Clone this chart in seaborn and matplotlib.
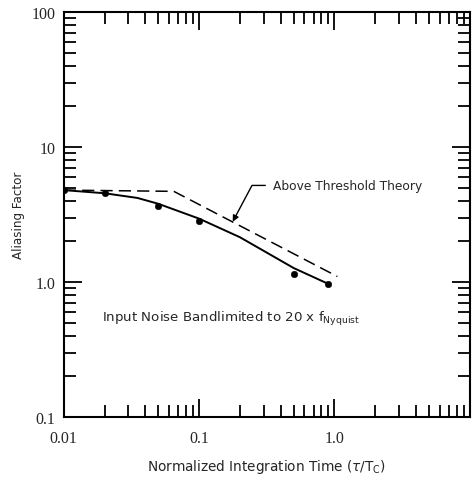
import matplotlib
matplotlib.use("Agg")
import matplotlib.pyplot as plt
from matplotlib.ticker import LogLocator, NullFormatter, FixedLocator, FixedFormatter
import seaborn as sns
import pandas as pd

# measured points (dots)
tau = [0.01, 0.02, 0.05, 0.1, 0.5, 0.9]
alias = [4.8, 4.55, 3.65, 2.85, 1.14, 0.97]

# smoothed fit through measurements (solid)
fit_tau = [0.01, 0.02, 0.035, 0.05, 0.1, 0.2, 0.5, 0.9]
fit_alias = [4.8, 4.55, 4.2, 3.8, 2.95, 2.15, 1.27, 0.97]

# above threshold theory (dashed)
thr_tau = [0.01, 0.065, 1.05]
thr_alias = [4.8, 4.7, 1.1]

xticks = [0.01, 0.1, 1.0]
xticklabels = ["0.01", "0.1", "1.0"]
yticks = [0.1, 1.0, 10, 100]
yticklabels = ["0.1", "1.0", "10", "100"]

sns.set_style("ticks")
plt.rcParams['font.family'] = ['DejaVu Sans']

fig = plt.figure(figsize=(4.76, 4.85), dpi=100)
ax = fig.add_axes([0.134, 0.138, 0.853, 0.835])

pts = pd.DataFrame({"tau": tau, "alias": alias})
fit = pd.DataFrame({"tau": fit_tau, "alias": fit_alias})
thr = pd.DataFrame({"tau": thr_tau, "alias": thr_alias})

sns.lineplot(data=fit, x="tau", y="alias", ax=ax, color="black", lw=1.4, sort=False)
sns.lineplot(data=thr, x="tau", y="alias", ax=ax, color="black", lw=1.1, sort=False,
             dashes=False, linestyle=(0, (8, 4)))
sns.scatterplot(data=pts, x="tau", y="alias", ax=ax, color="black", s=22,
                edgecolor="black", zorder=5)

ax.set_xscale("log")
ax.set_yscale("log")
ax.set_xlim(0.01, 10)
ax.set_ylim(0.1, 100)

ax.xaxis.set_major_locator(FixedLocator(xticks))
ax.xaxis.set_major_formatter(FixedFormatter(xticklabels))
ax.yaxis.set_major_locator(FixedLocator(yticks))
ax.yaxis.set_major_formatter(FixedFormatter(yticklabels))
ax.xaxis.set_minor_locator(LogLocator(base=10, subs=range(2, 10)))
ax.yaxis.set_minor_locator(LogLocator(base=10, subs=range(2, 10)))
ax.xaxis.set_minor_formatter(NullFormatter())
ax.yaxis.set_minor_formatter(NullFormatter())

ax.tick_params(which="both", direction="in", top=True, right=True, width=1.3,
               color="black")
ax.tick_params(which="major", length=13, labelsize=11.5)
ax.tick_params(axis="x", which="major", pad=9)
ax.tick_params(axis="y", which="major", pad=6)
ax.tick_params(which="minor", length=8.5)
for lab in ax.get_xticklabels() + ax.get_yticklabels():
    lab.set_family("Liberation Serif")
for s in ax.spines.values():
    s.set_linewidth(1.5)
    s.set_color("black")

ax.set_xlabel(r"Normalized Integration Time ($\tau$/T$_{\rm C}$)", fontsize=9.8,
              labelpad=8)
ax.set_ylabel("Aliasing Factor", fontsize=8.6, labelpad=5)

ax.annotate("Above Threshold Theory", xy=(0.177, 2.8), xytext=(0.35, 5.2),
            fontsize=8.8, va="center", ha="left",
            arrowprops=dict(arrowstyle="-|>", color="black", lw=1.0,
                            connectionstyle="angle,angleA=0,angleB=62,rad=0",
                            shrinkA=3, shrinkB=0, mutation_scale=9))

ax.text(0.0192, 0.54, r"Input Noise Bandlimited to 20 x f$_{\rm Nyquist}$",
        fontsize=9.6, va="center", ha="left")

fig.savefig("out.png", dpi=100)
